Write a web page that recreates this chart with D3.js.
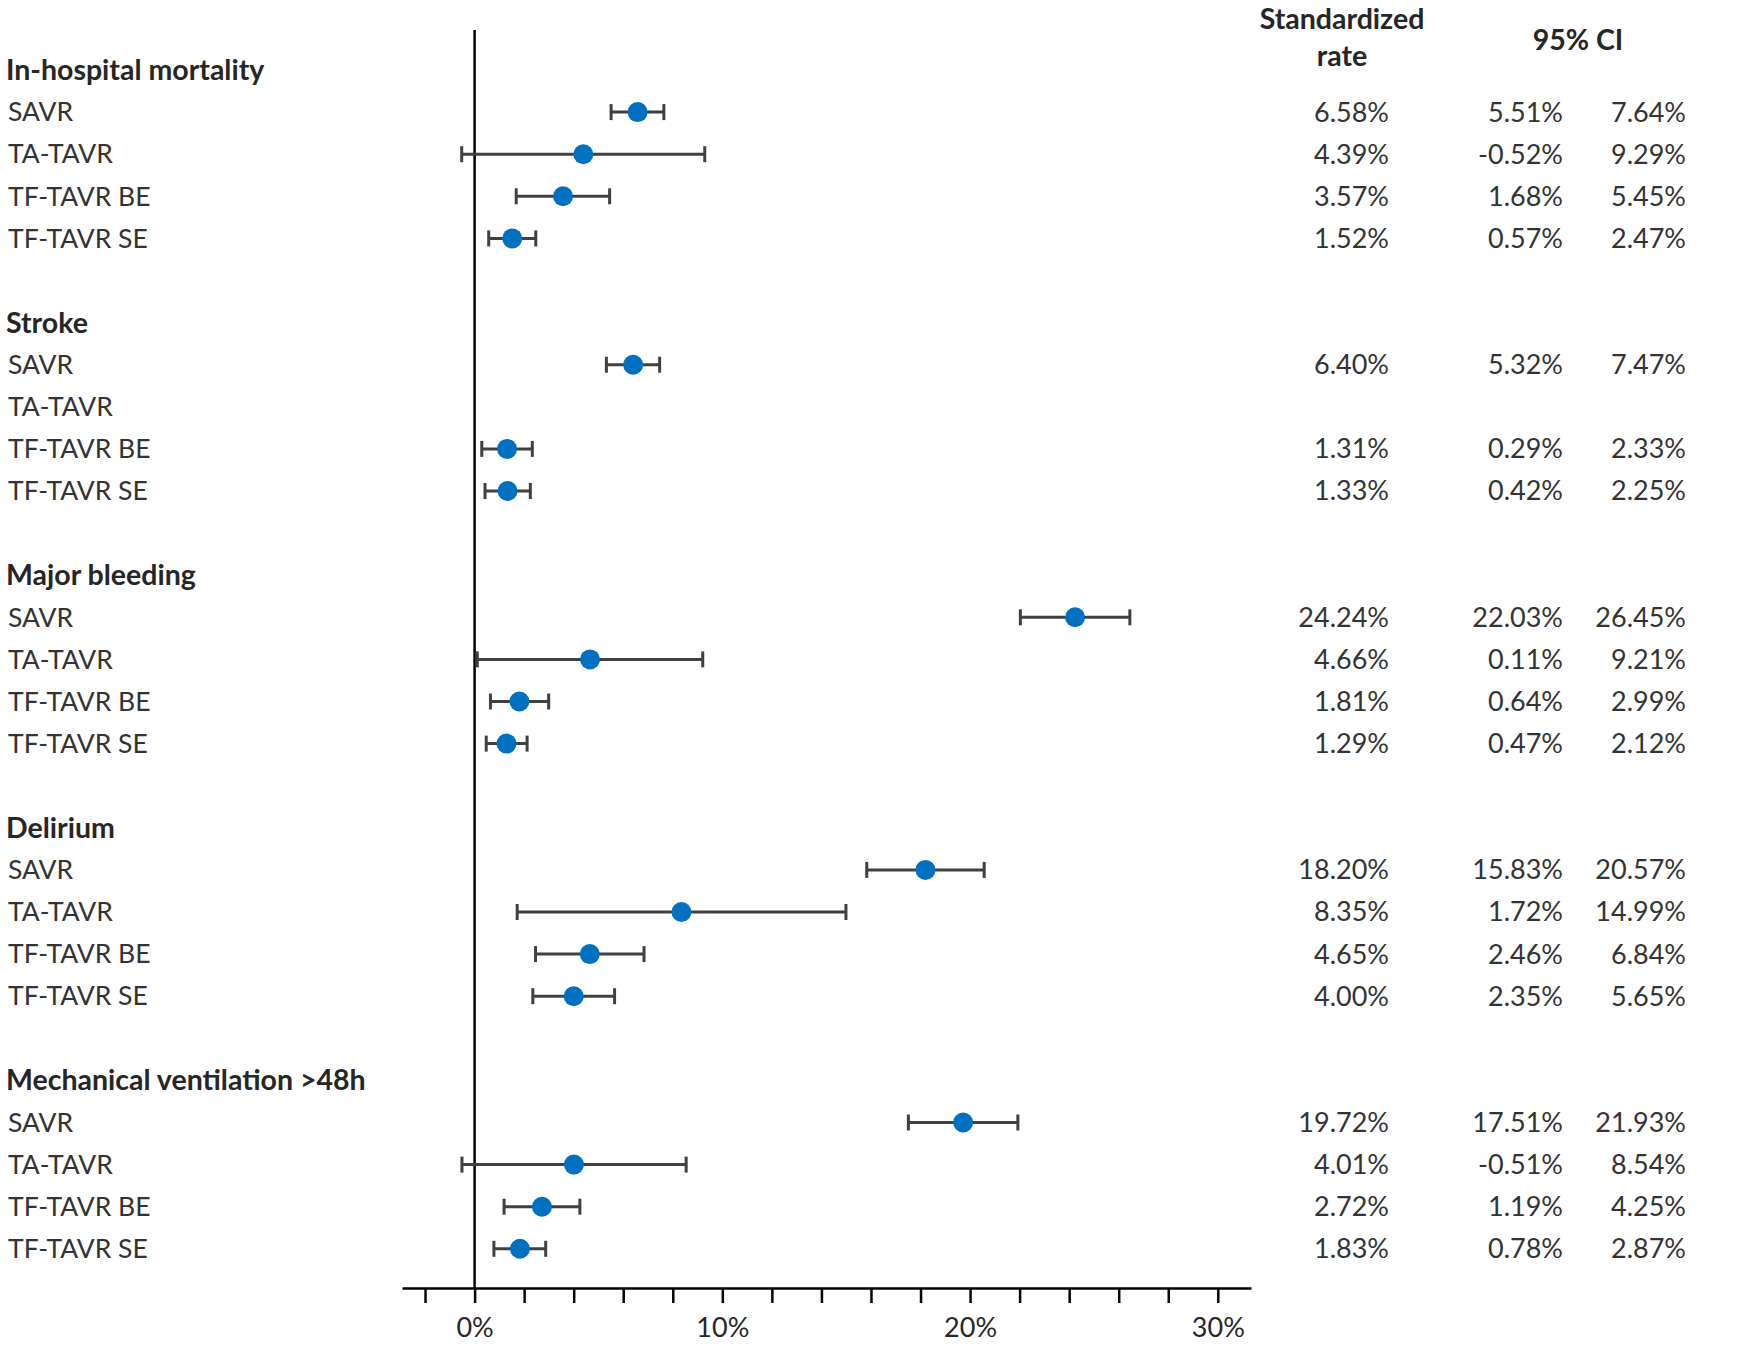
<!DOCTYPE html>
<html>
<head>
<meta charset="utf-8">
<script src="https://cdn.jsdelivr.net/npm/d3@7"></script>
<style>
  body { margin: 0; background: #fff; }
  text { font-family: Lato, "Open Sans", sans-serif; }
</style>
</head>
<body>
<div class="chart"></div>
<script>
var svgWidth = 1750;
var svgHeight = 1346;

var outcomes = ["In-hospital mortality", "Stroke", "Major bleeding", "Delirium", "Mechanical ventilation >48h"];
var groups = ["SAVR", "TA-TAVR", "TF-TAVR BE", "TF-TAVR SE"];

// standardized rate (%) per outcome, per group
var rate = [
  [6.58, 4.39, 3.57, 1.52],
  [6.40, null, 1.31, 1.33],
  [24.24, 4.66, 1.81, 1.29],
  [18.20, 8.35, 4.65, 4.00],
  [19.72, 4.01, 2.72, 1.83]
];
var ciLow = [
  [5.51, -0.52, 1.68, 0.57],
  [5.32, null, 0.29, 0.42],
  [22.03, 0.11, 0.64, 0.47],
  [15.83, 1.72, 2.46, 2.35],
  [17.51, -0.51, 1.19, 0.78]
];
var ciHigh = [
  [7.64, 9.29, 5.45, 2.47],
  [7.47, null, 2.33, 2.25],
  [26.45, 9.21, 2.99, 2.12],
  [20.57, 14.99, 6.84, 5.65],
  [21.93, 8.54, 4.25, 2.87]
];
var tickValues = d3.range(-2, 31, 2);

var svg = d3.select(".chart")
  .append("svg")
  .attr("width", svgWidth)
  .attr("height", svgHeight);

var x = d3.scaleLinear().domain([-2.93, 31.34]).range([402, 1251]);
// one slot per text line: header + 4 groups + blank
var y = d3.scaleLinear().domain([0, 1]).range([70, 112.1]);

var axisY = 1288;

// flatten rows
var rows = [];
outcomes.forEach(function(o, i) {
  groups.forEach(function(g, j) {
    rows.push({
      slot: i * 6 + j + 1,
      group: g,
      rate: rate[i][j],
      lo: ciLow[i][j],
      hi: ciHigh[i][j]
    });
  });
});

// outcome headers
svg.selectAll(".outcome")
  .data(outcomes)
  .enter()
  .append("text")
  .attr("class", "outcome")
  .attr("x", 6)
  .attr("y", (d, i) => y(i * 6))
  .attr("dy", "0.35em")
  .attr("font-size", "28.5px")
  .attr("font-weight", "bold")
  .attr("fill", "#262626")
  .text(d => d);

// group labels
svg.selectAll(".group")
  .data(rows)
  .enter()
  .append("text")
  .attr("class", "group")
  .attr("x", 8)
  .attr("y", d => y(d.slot))
  .attr("dy", "0.35em")
  .attr("font-size", "26.5px")
  .attr("fill", "#333")
  .text(d => d.group);

// zero line
svg.append("line")
  .attr("x1", x(0)).attr("x2", x(0))
  .attr("y1", 30).attr("y2", axisY)
  .attr("stroke", "#000")
  .attr("stroke-width", 2.5);

// x axis
var xAxis = svg.append("g")
  .attr("transform", `translate(0, ${axisY})`)
  .call(d3.axisBottom(x)
    .tickValues(tickValues)
    .tickSize(15)
    .tickSizeOuter(0)
    .tickPadding(15)
    .tickFormat(d => d % 10 === 0 ? d + "%" : ""));

xAxis.select(".domain").attr("stroke", "#000").attr("stroke-width", 2.5);
xAxis.selectAll(".tick line").attr("stroke", "#000").attr("stroke-width", 2.5);
xAxis.selectAll(".tick text")
  .attr("font-size", "27px")
  .attr("fill", "#262626")
  .style("font-family", "Lato, 'Open Sans', sans-serif");

var data = rows.filter(d => d.rate !== null);

var bars = svg.append("g").attr("stroke", "#404040").attr("stroke-width", 3);

bars.selectAll(".ci")
  .data(data)
  .enter()
  .append("line")
  .attr("x1", d => x(d.lo))
  .attr("x2", d => x(d.hi))
  .attr("y1", d => y(d.slot))
  .attr("y2", d => y(d.slot));

bars.selectAll(".capLo")
  .data(data)
  .enter()
  .append("line")
  .attr("x1", d => x(d.lo)).attr("x2", d => x(d.lo))
  .attr("y1", d => y(d.slot) - 8).attr("y2", d => y(d.slot) + 8);

bars.selectAll(".capHi")
  .data(data)
  .enter()
  .append("line")
  .attr("x1", d => x(d.hi)).attr("x2", d => x(d.hi))
  .attr("y1", d => y(d.slot) - 8).attr("y2", d => y(d.slot) + 8);

svg.selectAll(".dot")
  .data(data)
  .enter()
  .append("circle")
  .attr("cx", d => x(d.rate))
  .attr("cy", d => y(d.slot))
  .attr("r", 10)
  .attr("fill", "#0070C0");

// table headers
svg.append("text").attr("x", 1342).attr("y", 19).attr("dy", "0.35em")
  .attr("text-anchor", "middle").attr("font-size", "28.5px").attr("font-weight", "bold")
  .attr("fill", "#262626").text("Standardized");
svg.append("text").attr("x", 1342).attr("y", 56).attr("dy", "0.35em")
  .attr("text-anchor", "middle").attr("font-size", "28.5px").attr("font-weight", "bold")
  .attr("fill", "#262626").text("rate");
svg.append("text").attr("x", 1578).attr("y", 40).attr("dy", "0.35em")
  .attr("text-anchor", "middle").attr("font-size", "28.5px").attr("font-weight", "bold")
  .attr("fill", "#262626").text("95% CI");

var fmt = d => d.toFixed(2) + "%";
var cols = [
  { key: "rate", x: 1389 },
  { key: "lo", x: 1563 },
  { key: "hi", x: 1686 }
];
cols.forEach(function(c) {
  svg.selectAll(".v-" + c.key)
    .data(data)
    .enter()
    .append("text")
    .attr("x", c.x)
    .attr("y", d => y(d.slot))
    .attr("dy", "0.35em")
    .attr("text-anchor", "end")
    .attr("font-size", "27px")
    .attr("fill", "#333")
    .text(d => fmt(d[c.key]));
});
</script>
</body>
</html>
